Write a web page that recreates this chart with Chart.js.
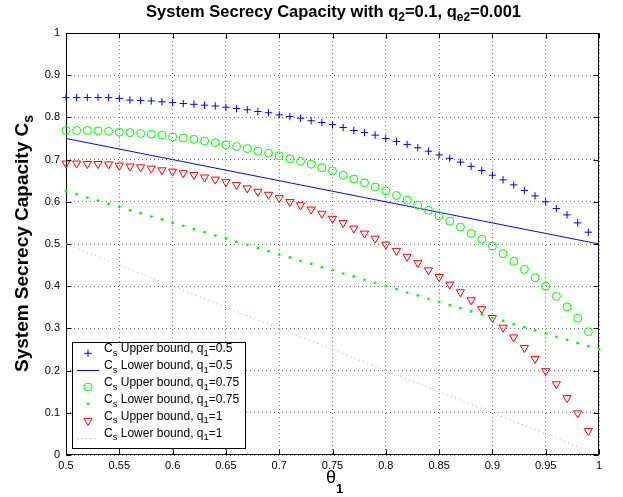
<!DOCTYPE html>
<html>
<head>
<meta charset="utf-8">
<script src="https://cdn.jsdelivr.net/npm/chart.js@4/dist/chart.umd.min.js"></script>
<style>
  html, body { margin: 0; padding: 0; background: #ffffff; }
  #wrap { width: 623px; height: 497px; }
</style>
</head>
<body>
<div id="wrap"><canvas id="c" width="623" height="497"></canvas></div>
<script>
// ---------------- data ----------------
const thetaUpper = [0.50,0.51,0.52,0.53,0.54,0.55,0.56,0.57,0.58,0.59,
                    0.60,0.61,0.62,0.63,0.64,0.65,0.66,0.67,0.68,0.69,
                    0.70,0.71,0.72,0.73,0.74,0.75,0.76,0.77,0.78,0.79,
                    0.80,0.81,0.82,0.83,0.84,0.85,0.86,0.87,0.88,0.89,
                    0.90,0.91,0.92,0.93,0.94,0.95,0.96,0.97,0.98,0.99];
const thetaLower = [0.50,0.51,0.52,0.53,0.54,0.55,0.56,0.57,0.58,0.59,
                    0.60,0.61,0.62,0.63,0.64,0.65,0.66,0.67,0.68,0.69,
                    0.70,0.71,0.72,0.73,0.74,0.75,0.76,0.77,0.78,0.79,
                    0.80,0.81,0.82,0.83,0.84,0.85,0.86,0.87,0.88,0.89,
                    0.90,0.91,0.92,0.93,0.94,0.95,0.96,0.97,0.98,0.99,1.00];

const upperQ05 = [0.847,0.847,0.847,0.847,0.847,0.845,0.841,0.840,0.839,0.837,
                  0.835,0.833,0.831,0.829,0.827,0.824,0.821,0.818,0.814,0.811,
                  0.806,0.802,0.798,0.792,0.788,0.783,0.776,0.769,0.764,0.758,
                  0.750,0.743,0.736,0.728,0.720,0.711,0.703,0.694,0.684,0.674,
                  0.663,0.652,0.640,0.627,0.614,0.600,0.584,0.569,0.550,0.528];
const lowerQ05 = [0.750,0.745,0.740,0.735,0.730,0.725,0.720,0.715,0.710,0.705,
                  0.700,0.695,0.690,0.685,0.680,0.675,0.670,0.665,0.660,0.655,
                  0.650,0.645,0.640,0.635,0.630,0.625,0.620,0.615,0.610,0.605,
                  0.600,0.595,0.590,0.585,0.580,0.575,0.570,0.565,0.560,0.555,
                  0.550,0.545,0.540,0.535,0.530,0.525,0.520,0.515,0.510,0.505,0.500];
const upperQ075 = [0.769,0.769,0.769,0.768,0.767,0.765,0.764,0.762,0.760,0.758,
                   0.754,0.751,0.748,0.744,0.740,0.735,0.731,0.726,0.720,0.715,
                   0.709,0.702,0.696,0.689,0.681,0.673,0.663,0.654,0.645,0.635,
                   0.626,0.615,0.604,0.592,0.580,0.567,0.554,0.540,0.525,0.511,
                   0.495,0.477,0.459,0.440,0.420,0.400,0.376,0.351,0.324,0.292];
const lowerQ075 = [0.625,0.618,0.610,0.603,0.595,0.588,0.580,0.573,0.565,0.558,
                   0.550,0.543,0.535,0.528,0.520,0.513,0.505,0.498,0.490,0.483,
                   0.475,0.468,0.460,0.453,0.445,0.438,0.430,0.423,0.415,0.408,
                   0.400,0.393,0.385,0.378,0.370,0.363,0.355,0.348,0.340,0.333,
                   0.325,0.318,0.310,0.303,0.295,0.288,0.280,0.273,0.265,0.258,0.250];
const upperQ1 = [0.691,0.691,0.690,0.690,0.689,0.686,0.684,0.682,0.679,0.675,
                 0.672,0.668,0.664,0.658,0.653,0.647,0.640,0.632,0.624,0.617,
                 0.609,0.600,0.592,0.582,0.572,0.560,0.550,0.537,0.525,0.513,
                 0.499,0.484,0.470,0.455,0.438,0.422,0.404,0.386,0.367,0.346,
                 0.325,0.302,0.279,0.254,0.228,0.199,0.168,0.135,0.099,0.057];
const lowerQ1 = [0.50,0.49,0.48,0.47,0.46,0.45,0.44,0.43,0.42,0.41,
                 0.40,0.39,0.38,0.37,0.36,0.35,0.34,0.33,0.32,0.31,
                 0.30,0.29,0.28,0.27,0.26,0.25,0.24,0.23,0.22,0.21,
                 0.20,0.19,0.18,0.17,0.16,0.15,0.14,0.13,0.12,0.11,
                 0.10,0.09,0.08,0.07,0.06,0.05,0.04,0.03,0.02,0.01,0.00];

const seriesNames = ['C_s Upper bound, q_1=0.5', 'C_s Lower bound, q_1=0.5',
                     'C_s Upper bound, q_1=0.75', 'C_s Lower bound, q_1=0.75',
                     'C_s Upper bound, q_1=1', 'C_s Lower bound, q_1=1'];
const xTickLabels = ['0.5','0.55','0.6','0.65','0.7','0.75','0.8','0.85','0.9','0.95','1'];
const yTickLabels = ['0','0.1','0.2','0.3','0.4','0.5','0.6','0.7','0.8','0.9','1'];
const titleText = 'System Secrecy Capacity with q_2=0.1, q_{e2}=0.001';
const xAxisTitle = '\u03B8_1';
const yAxisTitle = 'System Secrecy Capacity C_s';

// ---------------- styles ----------------
const FAMILY = '"Liberation Sans", Arial, Helvetica, sans-serif';
const BLUE = '#0000ff', GREEN = '#00ff00', RED = '#ff0000', PINK = '#ff9090';

const pts = (xs, ys) => xs.map((x, i) => ({ x: x, y: ys[i] }));

// ---------------- TeX-like subscript text helper ----------------
function parseTex(s) {
  const out = []; let buf = ''; let i = 0;
  while (i < s.length) {
    if (s[i] === '_') {
      if (buf) { out.push({ t: buf, sub: false }); buf = ''; }
      i++;
      let t;
      if (s[i] === '{') { const j = s.indexOf('}', i); t = s.slice(i + 1, j); i = j + 1; }
      else { t = s[i]; i++; }
      out.push({ t: t, sub: true });
    } else { buf += s[i]; i++; }
  }
  if (buf) out.push({ t: buf, sub: false });
  return out;
}
function drawTex(ctx, s, x, y, o) {
  const parts = parseTex(s);
  const fontOf = p => (p.sub ? (o.subBold ? 'bold ' : '') + o.subSize : (o.bold ? 'bold ' : '') + o.size) + 'px ' + FAMILY;
  let w = 0;
  parts.forEach(p => { ctx.font = fontOf(p); p.w = ctx.measureText(p.t).width; w += p.w; });
  let cx = o.align === 'center' ? x - w / 2 : x;
  ctx.textAlign = 'left';
  ctx.textBaseline = 'alphabetic';
  parts.forEach(p => {
    ctx.font = fontOf(p);
    ctx.fillText(p.t, cx, y + (p.sub ? o.subDy : 0));
    cx += p.w;
  });
  return w;
}

// ---------------- plugins ----------------
const boxPlugin = {
  id: 'matlabBox',
  beforeDatasetsDraw(chart) {
    const { ctx, chartArea: a, scales } = chart;
    ctx.save();
    ctx.strokeStyle = '#000';
    ctx.lineWidth = 1;
    const L = Math.round(a.left) + 0.5, R = Math.round(a.right) - 0.5;
    const T = Math.round(a.top) + 0.5, B = Math.round(a.bottom) - 0.5;
    ctx.beginPath();
    const tl = 5;
    scales.x.ticks.forEach(t => {
      const px = Math.round(scales.x.getPixelForValue(t.value)) + 0.5;
      ctx.moveTo(px, B); ctx.lineTo(px, B - tl);
      ctx.moveTo(px, T); ctx.lineTo(px, T + tl);
    });
    scales.y.ticks.forEach(t => {
      const py = Math.round(scales.y.getPixelForValue(t.value)) + 0.5;
      ctx.moveTo(L, py); ctx.lineTo(L + tl, py);
      ctx.moveTo(R, py); ctx.lineTo(R - tl, py);
    });
    ctx.stroke();
    ctx.strokeRect(L, T, R - L, B - T);
    ctx.restore();
  }
};

const legendPlugin = {
  id: 'matlabLegend',
  afterDatasetsDraw(chart) {
    const ctx = chart.ctx;
    ctx.save();
    const bx = 72, by = 342, bw = 173, bh = 106;
    ctx.fillStyle = '#fff';
    ctx.fillRect(bx, by, bw, bh);
    ctx.strokeStyle = '#000';
    ctx.lineWidth = 1;
    ctx.strokeRect(bx + 0.5, by + 0.5, bw, bh);
    const ds = chart.data.datasets;
    for (let i = 0; i < ds.length; i++) {
      const my = 353.3 + 16.85 * i;
      const mx = 88;
      const d = ds[i];
      ctx.save();
      ctx.lineWidth = 1;
      ctx.strokeStyle = d.borderColor;
      ctx.fillStyle = d.pointBackgroundColor || d.borderColor;
      if (d.showLine) {
        ctx.setLineDash(d.borderDash || []);
        ctx.beginPath(); ctx.moveTo(77, Math.round(my) + 0.5); ctx.lineTo(99, Math.round(my) + 0.5); ctx.stroke();
      } else if (d.pointStyle === 'cross') {
        const r = d.pointRadius;
        ctx.beginPath();
        ctx.moveTo(mx - r, my); ctx.lineTo(mx + r, my);
        ctx.moveTo(mx, my - r); ctx.lineTo(mx, my + r);
        ctx.stroke();
      } else if (d.pointStyle === 'triangle') {
        const r = d.pointRadius; let rad = Math.PI;
        ctx.beginPath();
        ctx.moveTo(mx + Math.sin(rad) * r, my - Math.cos(rad) * r);
        rad += 2 * Math.PI / 3; ctx.lineTo(mx + Math.sin(rad) * r, my - Math.cos(rad) * r);
        rad += 2 * Math.PI / 3; ctx.lineTo(mx + Math.sin(rad) * r, my - Math.cos(rad) * r);
        ctx.closePath(); ctx.stroke();
      } else {
        ctx.beginPath(); ctx.arc(mx, my, d.pointRadius, 0, Math.PI * 2);
        if (d.pointBorderWidth === 0) { ctx.fillStyle = d.pointBackgroundColor; ctx.fill(); }
        else ctx.stroke();
      }
      ctx.restore();
      ctx.fillStyle = '#000';
      drawTex(ctx, d.label, 104, 352.3 + 16.9 * i, { size: 12, subSize: 9.5, subDy: 3.5, bold: false, subBold: false, align: 'left' });
    }
    ctx.restore();
  }
};

const textPlugin = {
  id: 'matlabText',
  afterDraw(chart) {
    const ctx = chart.ctx;
    const a = chart.chartArea;
    ctx.save();
    ctx.fillStyle = '#000';
    // title
    drawTex(ctx, titleText, (a.left + a.right) / 2 + 1, 17, { size: 16.5, subSize: 12, subDy: 4, bold: true, subBold: true, align: 'center' });
    // x axis title
    drawTex(ctx, xAxisTitle, (a.left + a.right) / 2 + 2, 483, { size: 18, subSize: 13, subDy: 10, bold: false, subBold: true, align: 'center' });
    // y axis title (rotated)
    ctx.save();
    ctx.translate(27.5, 372);
    ctx.rotate(-Math.PI / 2);
    drawTex(ctx, yAxisTitle, 0, 0, { size: 19, subSize: 14, subDy: 5, bold: true, subBold: true, align: 'left' });
    ctx.restore();
    ctx.restore();
  }
};

// ---------------- chart ----------------
const gridOpts = { color: 'rgba(0,0,0,0.55)', lineWidth: 1, drawTicks: false };
new Chart(document.getElementById('c'), {
  type: 'scatter',
  data: {
    datasets: [
      { label: seriesNames[0], data: pts(thetaUpper, upperQ05), showLine: false,
        pointStyle: 'cross', pointRadius: 3.7, pointBorderWidth: 1, borderColor: BLUE,
        pointBorderColor: BLUE, pointBackgroundColor: 'rgba(0,0,0,0)', order: 6, clip: false },
      { label: seriesNames[1], data: pts(thetaLower, lowerQ05), showLine: true,
        pointRadius: 0, borderColor: BLUE, borderWidth: 1, order: 5, clip: false },
      { label: seriesNames[2], data: pts(thetaUpper, upperQ075), showLine: false,
        pointStyle: 'circle', pointRadius: 4, pointBorderWidth: 1, borderColor: GREEN,
        pointBorderColor: GREEN, pointBackgroundColor: 'rgba(0,0,0,0)', order: 4, clip: false },
      { label: seriesNames[3], data: pts(thetaLower, lowerQ075), showLine: false,
        pointStyle: 'circle', pointRadius: 1.4, pointBorderWidth: 0, borderColor: GREEN,
        pointBorderColor: GREEN, pointBackgroundColor: GREEN, order: 3, clip: false },
      { label: seriesNames[4], data: pts(thetaUpper, upperQ1), showLine: false,
        pointStyle: 'triangle', rotation: 180, pointRotation: 180, pointRadius: 4.7, pointBorderWidth: 1,
        borderColor: RED, pointBorderColor: RED, pointBackgroundColor: 'rgba(0,0,0,0)', order: 2, clip: false },
      { label: seriesNames[5], data: pts(thetaLower, lowerQ1), showLine: true,
        pointRadius: 0, borderColor: PINK, borderWidth: 1, borderDash: [1, 3.5], order: 1, clip: false }
    ]
  },
  options: {
    responsive: false,
    animation: false,
    devicePixelRatio: 1,
    layout: { padding: { left: 0, right: 24, top: 33, bottom: 0 } },
    plugins: { legend: { display: false }, title: { display: false }, tooltip: { enabled: false } },
    elements: { point: { hoverRadius: 0 } },
    scales: {
      x: {
        type: 'linear', min: 0.5, max: 1,
        grid: gridOpts,
        border: { display: false, dash: [1, 3] },
        ticks: { stepSize: 0.05, autoSkip: false, maxRotation: 0, padding: 4, color: '#000',
                 font: { family: FAMILY, size: 11 },
                 callback: (v, i) => xTickLabels[i] },
        afterFit: s => { s.height = 42; }
      },
      y: {
        type: 'linear', min: 0, max: 1,
        grid: gridOpts,
        border: { display: false, dash: [1, 3] },
        ticks: { stepSize: 0.1, autoSkip: false, padding: 6, color: '#000',
                 font: { family: FAMILY, size: 11 },
                 callback: (v, i) => yTickLabels[i] },
        afterFit: s => { s.width = 66; }
      }
    }
  },
  plugins: [boxPlugin, legendPlugin, textPlugin]
});
</script>
</body>
</html>
